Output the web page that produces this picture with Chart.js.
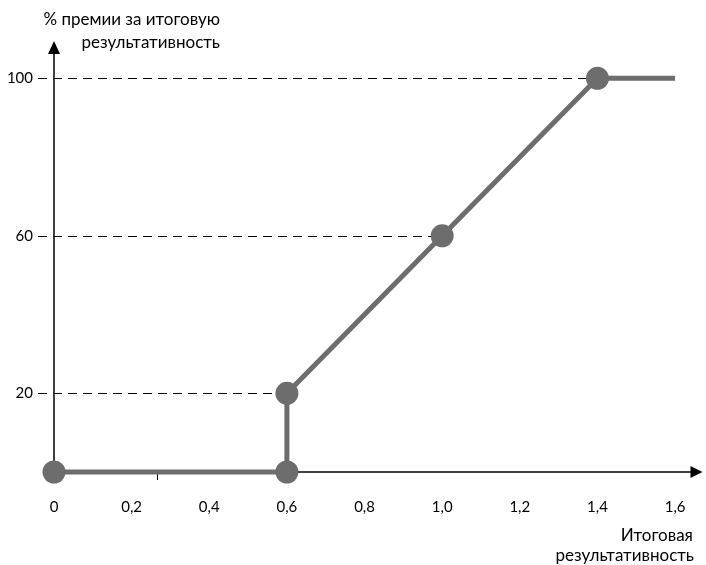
<!DOCTYPE html>
<html>
<head>
<meta charset="utf-8">
<script src="https://cdn.jsdelivr.net/npm/chart.js@4"></script>
<style>
  body { margin: 0; background: #fff; }
  #wrap { position: relative; width: 706px; height: 565px; }
</style>
</head>
<body>
<div id="wrap"><canvas id="bonusChart"></canvas></div>
<script>
// data
const perfValues = [0, 0.6, 0.6, 1.0, 1.4, 1.6];
const bonusValues = [0, 0, 20, 60, 100, 100];
const markerOn = [true, true, true, true, true, false];
const xTickValues = [0, 0.2, 0.4, 0.6, 0.8, 1.0, 1.2, 1.4, 1.6];
const yTickValues = [20, 60, 100];
const strayTick = 0.265; // small tick mark under the x axis
const yTitle = ['% премии за итоговую', 'результативность'];
const xTitle = ['Итоговая', 'результативность'];

const FONT = 'Lato, "Open Sans", sans-serif';
const GREY = '#6d6d6d';

function fmt(v) {
    if (v === 0) return '0';
    return v.toFixed(1).replace('.', ',');
}

// axes with arrows, dashed guides, titles
const decor = {
    id: 'decor',
    beforeDatasetsDraw(chart) {
        const ctx = chart.ctx;
        const xs = chart.scales.x, ys = chart.scales.y;
        const x0 = xs.getPixelForValue(0), y0 = ys.getPixelForValue(0);
        const area = chart.chartArea;
        const xEnd = area.right + 8;
        ctx.save();

        // dashed guides to each labelled point
        ctx.strokeStyle = '#000';
        ctx.lineWidth = 1;
        ctx.setLineDash([9, 6]);
        perfValues.forEach((v, i) => {
            if (!markerOn[i] || !yTickValues.includes(bonusValues[i])) return;
            const py = Math.round(ys.getPixelForValue(bonusValues[i])) + 0.5;
            ctx.beginPath();
            ctx.moveTo(x0 - 16, py);
            ctx.lineTo(xs.getPixelForValue(v), py);
            ctx.stroke();
        });
        ctx.setLineDash([]);

        // y axis
        ctx.lineWidth = 1.5;
        ctx.beginPath();
        ctx.moveTo(x0, y0);
        ctx.lineTo(x0, area.top + 12);
        ctx.stroke();
        ctx.fillStyle = '#000';
        ctx.beginPath();
        ctx.moveTo(x0, area.top + 2);
        ctx.lineTo(x0 - 6, area.top + 15);
        ctx.lineTo(x0 + 6, area.top + 15);
        ctx.closePath();
        ctx.fill();

        // x axis
        ctx.beginPath();
        ctx.moveTo(x0, y0);
        ctx.lineTo(xEnd - 10, y0);
        ctx.stroke();
        ctx.beginPath();
        ctx.moveTo(xEnd, y0);
        ctx.lineTo(xEnd - 12, y0 - 6);
        ctx.lineTo(xEnd - 12, y0 + 6);
        ctx.closePath();
        ctx.fill();

        // stray tick
        const tx = Math.round(xs.getPixelForValue(strayTick)) + 0.5;
        ctx.lineWidth = 1;
        ctx.beginPath();
        ctx.moveTo(tx, y0);
        ctx.lineTo(tx, y0 + 8);
        ctx.stroke();

        // titles
        ctx.font = '17px ' + FONT;
        ctx.textAlign = 'right';
        ctx.textBaseline = 'middle';
        ctx.fillText(yTitle[0], 220, 20);
        ctx.fillText(yTitle[1], 220, 43);
        ctx.fillText(xTitle[0], 693, 536);
        ctx.fillText(xTitle[1], 694, 556);
        ctx.restore();
    }
};

const ctx = document.getElementById('bonusChart').getContext('2d');
new Chart(ctx, {
    type: 'line',
    data: {
        datasets: [{
            data: perfValues.map((v, i) => ({ x: v, y: bonusValues[i] })),
            borderColor: GREY,
            borderWidth: 5,
            backgroundColor: GREY,
            pointBackgroundColor: GREY,
            pointBorderWidth: 0,
            pointRadius: markerOn.map(m => (m ? 11.5 : 0)),
            tension: 0,
            clip: false,
        }],
    },
    options: {
        responsive: true,
        maintainAspectRatio: false,
        animation: false,
        events: [],
        layout: { padding: { top: 39, right: 3, left: 0, bottom: 0 } },
        plugins: { legend: { display: false }, tooltip: { enabled: false } },
        scales: {
            x: {
                type: 'linear',
                min: 0,
                max: 1.65,
                border: { display: false },
                grid: { display: false, drawTicks: false },
                afterBuildTicks: s => { s.ticks = xTickValues.map(v => ({ value: v })); },
                afterFit: s => { s.height = 93; s.paddingLeft = 0; s.paddingRight = 0; },
                ticks: {
                    padding: 26,
                    color: '#000',
                    font: { family: FONT, size: 15 },
                    callback: v => fmt(v),
                },
            },
            y: {
                min: 0,
                max: 110,
                border: { display: false },
                grid: { display: false, drawTicks: false },
                afterBuildTicks: s => { s.ticks = yTickValues.map(v => ({ value: v })); },
                afterFit: s => { s.width = 54; },
                ticks: {
                    padding: 21,
                    color: '#000',
                    font: { family: FONT, size: 15 },
                    callback: v => String(v),
                },
            },
        },
    },
    plugins: [decor],
});
</script>
</body>
</html>
